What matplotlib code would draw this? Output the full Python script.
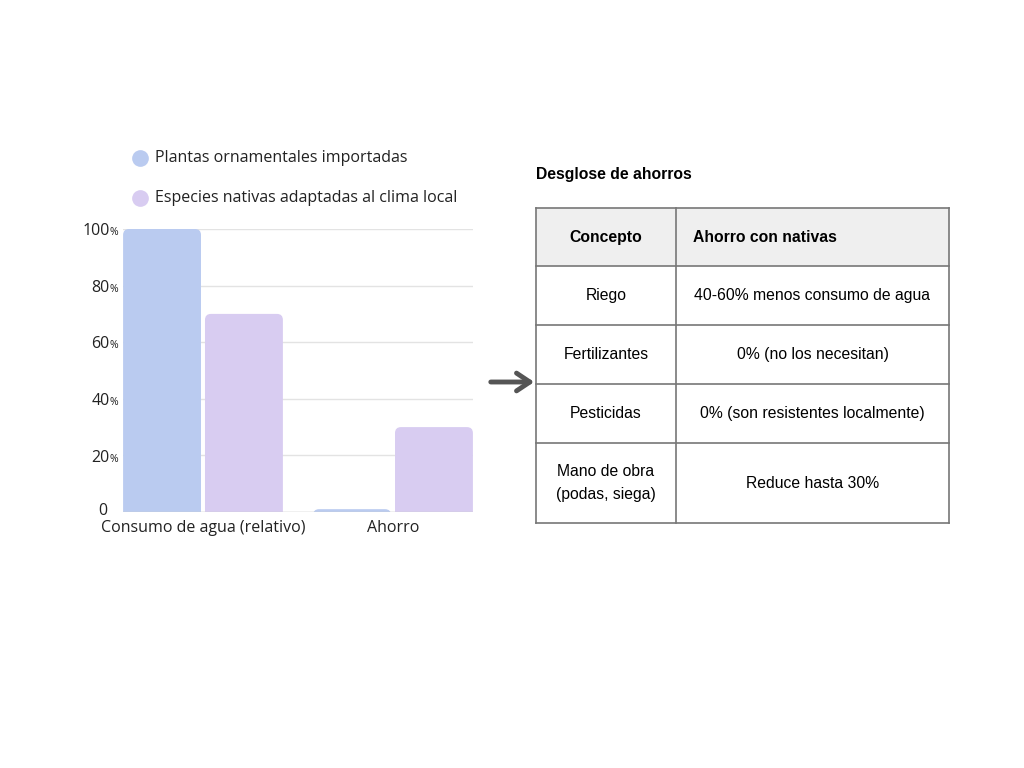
import matplotlib
matplotlib.use("Agg")
import matplotlib.pyplot as plt
from matplotlib.patches import Rectangle, FancyArrowPatch, FancyBboxPatch
from matplotlib.transforms import offset_copy
import numpy as np

categories = ["Consumo de agua (relativo)", "Ahorro"]
series_names = ["Plantas ornamentales importadas", "Especies nativas adaptadas al clima local"]
importadas = [100, 1]
nativas = [70, 30]
yticks = [0, 20, 40, 60, 80, 100]
colors = ["#bacbf0", "#d8ccf1"]

table_title = "Desglose de ahorros"
table_header = ["Concepto", "Ahorro con nativas"]
table_concepts = ["Riego", "Fertilizantes", "Pesticidas", "Mano de obra\n(podas, siega)"]
table_savings = ["40-60% menos consumo de agua", "0% (no los necesitan)",
                 "0% (son resistentes localmente)", "Reduce hasta 30%"]

W, H = 1024, 768
fig = plt.figure(figsize=(W / 100, H / 100), dpi=100)
fig.patch.set_facecolor("white")

ov = fig.add_axes([0, 0, 1, 1], zorder=5)
ov.set_xlim(0, W)
ov.set_ylim(H, 0)
ov.axis("off")
ov.patch.set_alpha(0)

# ---- bar chart ----
ax_w_px, ax_h_px = 350, 512 - 229
ax = fig.add_axes([123 / W, (H - 512) / H, ax_w_px / W, ax_h_px / H])
x = np.arange(len(categories))
bw = 0.41
gap = 0.021
off = (bw + gap) / 2
xlim = (-0.421, 1.421)
ylim = (0, 100)
ax.set_xlim(*xlim)
ax.set_ylim(*ylim)
px_per_x = ax_w_px / (xlim[1] - xlim[0])
px_per_y = ax_h_px / (ylim[1] - ylim[0])
r_px = 6
rx = r_px / px_per_x
aspect = (r_px / px_per_y) / rx
ext = 4  # extend below baseline, clipped
for vals, col, sgn in [(importadas, colors[0], -1), (nativas, colors[1], 1)]:
    for xi, v in zip(x, vals):
        p = FancyBboxPatch((xi + sgn * off - bw / 2, -ext), bw, v + ext,
                           boxstyle=f"round,pad=0,rounding_size={rx}",
                           mutation_aspect=aspect, facecolor=col, edgecolor="none",
                           zorder=3, clip_on=True)
        ax.add_patch(p)
for s in ax.spines.values():
    s.set_visible(False)
ax.set_yticks(yticks)
ax.yaxis.grid(True, color="#e3e3e3", linewidth=1, zorder=0)
ax.axhline(0, color="#cccccc", linewidth=1, zorder=4)
ax.tick_params(axis="y", length=0, labelleft=False)
ax.tick_params(axis="x", length=0, pad=5.5)
ax.set_xticks(x)
ax.set_xticklabels(categories, fontsize=11.5, family="Open Sans", color="#222222")
tr = ax.get_yaxis_transform()
tr_base = offset_copy(tr, fig=fig, x=0, y=-4.5, units="points")
tr_zero = offset_copy(tr, fig=fig, x=0, y=0.5, units="points")
for t in yticks:
    if t == 0:
        ax.text(-0.046, t, "0", transform=tr_zero, ha="right", va="center",
                fontsize=11.5, family="Open Sans", color="#222222")
    else:
        ax.text(-0.038, t, str(t), transform=tr_base, ha="right", va="baseline",
                fontsize=11.5, family="Open Sans", color="#222222")
        ax.text(-0.038, t, "%", transform=tr_base, ha="left", va="baseline",
                fontsize=7.5, family="Open Sans", color="#222222")

# legend
for i, (name, col) in enumerate(zip(series_names, colors)):
    yy = 158 + 40 * i
    ov.scatter([140], [yy], s=145, color=col, marker="o", linewidths=0)
    ov.text(155, yy, name, ha="left", va="center", fontsize=11.5,
            family="Open Sans", color="#222222")

# arrow
ov.add_patch(FancyArrowPatch((488, 382), (537, 382), arrowstyle="->,head_length=6,head_width=4",
                             color="#555555", linewidth=3.5, mutation_scale=1.6))

# ---- table ----
fs = 11.3
ov.text(536, 175, table_title, ha="left", va="center", fontsize=fs,
        fontweight="bold", family="Liberation Sans", color="black")
col_x = [536, 676, 949]
row_y = [208, 266, 325, 384, 443, 523]
ov.add_patch(Rectangle((col_x[0], row_y[0]), col_x[2] - col_x[0], row_y[1] - row_y[0],
                       facecolor="#efefef", edgecolor="none", zorder=1))
lc = "#777777"
for yy in row_y:
    ov.plot([col_x[0], col_x[2]], [yy, yy], color=lc, linewidth=1.2, zorder=2)
for xx in col_x:
    ov.plot([xx, xx], [row_y[0], row_y[-1]], color=lc, linewidth=1.2, zorder=2)
hy = (row_y[0] + row_y[1]) / 2 - 1
ov.text((col_x[0] + col_x[1]) / 2, hy, table_header[0], ha="center", va="center_baseline",
        fontsize=fs, fontweight="bold", family="Liberation Sans", color="black")
ov.text(693, hy, table_header[1], ha="left", va="center_baseline",
        fontsize=fs, fontweight="bold", family="Liberation Sans", color="black")
for i, (c, s) in enumerate(zip(table_concepts, table_savings)):
    cy = (row_y[i + 1] + row_y[i + 2]) / 2
    ov.text((col_x[0] + col_x[1]) / 2, cy, c, ha="center", va="center",
            fontsize=fs, family="Liberation Sans", color="black", linespacing=1.75)
    ov.text((col_x[1] + col_x[2]) / 2, cy, s, ha="center", va="center",
            fontsize=fs, family="Liberation Sans", color="black")

fig.savefig("out.png", dpi=100, facecolor="white")
